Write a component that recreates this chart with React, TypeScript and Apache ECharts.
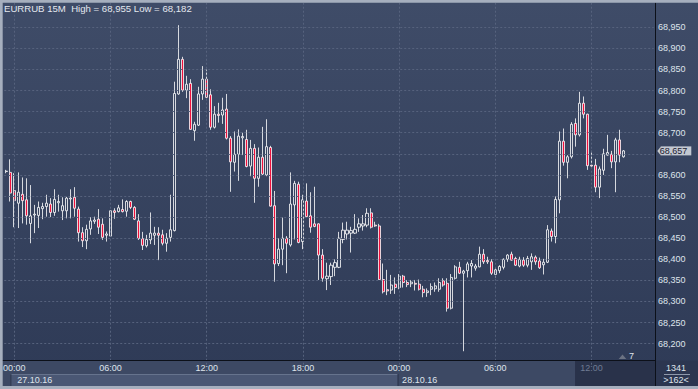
import React, { useEffect, useRef } from 'react';
import * as echarts from 'echarts';

// ---------- data ----------
const symbolName = 'EURRUB';
const timeframe = '15M';
const firstBarTime = Date.UTC(2016, 9, 26, 23, 30); // 26.10.16 23:30
const barMinutes = 15;
const visibleBars = 162;
const totalBars = 1341;

// [open, close, low, high]
const candles: number[][] = [
  [68.608, 68.609, 68.604, 68.612],
  [68.606, 68.557, 68.537, 68.637],
  [68.563, 68.539, 68.476, 68.604],
  [68.533, 68.559, 68.474, 68.606],
  [68.554, 68.539, 68.485, 68.594],
  [68.541, 68.503, 68.482, 68.592],
  [68.485, 68.503, 68.438, 68.576],
  [68.505, 68.507, 68.462, 68.529],
  [68.504, 68.523, 68.474, 68.537],
  [68.520, 68.525, 68.495, 68.534],
  [68.525, 68.533, 68.501, 68.553],
  [68.531, 68.511, 68.500, 68.545],
  [68.511, 68.542, 68.503, 68.566],
  [68.534, 68.537, 68.513, 68.553],
  [68.515, 68.527, 68.493, 68.547],
  [68.515, 68.545, 68.497, 68.548],
  [68.543, 68.545, 68.497, 68.566],
  [68.547, 68.521, 68.501, 68.571],
  [68.519, 68.463, 68.442, 68.525],
  [68.463, 68.444, 68.429, 68.476],
  [68.444, 68.471, 68.424, 68.482],
  [68.472, 68.491, 68.458, 68.500],
  [68.490, 68.493, 68.484, 68.501],
  [68.495, 68.476, 68.460, 68.519],
  [68.483, 68.452, 68.446, 68.497],
  [68.457, 68.460, 68.442, 68.466],
  [68.455, 68.515, 68.454, 68.516],
  [68.515, 68.511, 68.496, 68.521],
  [68.513, 68.522, 68.511, 68.529],
  [68.518, 68.513, 68.511, 68.542],
  [68.514, 68.537, 68.501, 68.540],
  [68.537, 68.523, 68.519, 68.539],
  [68.523, 68.495, 68.493, 68.526],
  [68.491, 68.449, 68.446, 68.507],
  [68.449, 68.433, 68.422, 68.465],
  [68.432, 68.447, 68.428, 68.458],
  [68.446, 68.462, 68.436, 68.511],
  [68.457, 68.462, 68.434, 68.477],
  [68.462, 68.457, 68.398, 68.476],
  [68.458, 68.438, 68.433, 68.470],
  [68.438, 68.450, 68.418, 68.462],
  [68.452, 68.470, 68.442, 68.553],
  [68.468, 68.793, 68.466, 68.821],
  [68.792, 68.874, 68.790, 68.955],
  [68.874, 68.801, 68.797, 68.880],
  [68.801, 68.815, 68.782, 68.835],
  [68.817, 68.708, 68.707, 68.827],
  [68.705, 68.720, 68.681, 68.726],
  [68.718, 68.792, 68.716, 68.809],
  [68.792, 68.827, 68.778, 68.858],
  [68.827, 68.784, 68.782, 68.850],
  [68.790, 68.713, 68.707, 68.803],
  [68.713, 68.744, 68.710, 68.763],
  [68.744, 68.741, 68.724, 68.771],
  [68.742, 68.754, 68.721, 68.783],
  [68.756, 68.687, 68.684, 68.792],
  [68.687, 68.631, 68.560, 68.692],
  [68.630, 68.649, 68.608, 68.703],
  [68.649, 68.692, 68.586, 68.708],
  [68.688, 68.691, 68.647, 68.700],
  [68.684, 68.620, 68.618, 68.707],
  [68.621, 68.663, 68.597, 68.683],
  [68.663, 68.592, 68.534, 68.673],
  [68.592, 68.642, 68.572, 68.665],
  [68.642, 68.602, 68.600, 68.714],
  [68.600, 68.667, 68.597, 68.732],
  [68.665, 68.526, 68.525, 68.669],
  [68.527, 68.389, 68.347, 68.562],
  [68.390, 68.424, 68.384, 68.450],
  [68.424, 68.450, 68.386, 68.499],
  [68.450, 68.438, 68.367, 68.455],
  [68.434, 68.531, 68.430, 68.606],
  [68.529, 68.580, 68.447, 68.586],
  [68.578, 68.440, 68.438, 68.584],
  [68.442, 68.541, 68.424, 68.553],
  [68.538, 68.501, 68.500, 68.580],
  [68.503, 68.476, 68.463, 68.559],
  [68.484, 68.478, 68.476, 68.572],
  [68.484, 68.410, 68.351, 68.485],
  [68.410, 68.355, 68.347, 68.424],
  [68.354, 68.360, 68.327, 68.392],
  [68.359, 68.386, 68.339, 68.392],
  [68.381, 68.392, 68.360, 68.400],
  [68.381, 68.450, 68.379, 68.465],
  [68.447, 68.469, 68.438, 68.487],
  [68.460, 68.469, 68.447, 68.489],
  [68.462, 68.468, 68.416, 68.477],
  [68.462, 68.471, 68.460, 68.507],
  [68.476, 68.484, 68.465, 68.497],
  [68.479, 68.484, 68.468, 68.505],
  [68.481, 68.509, 68.476, 68.521],
  [68.510, 68.476, 68.473, 68.521],
  [68.481, 68.479, 68.477, 68.489],
  [68.479, 68.352, 68.351, 68.484],
  [68.352, 68.323, 68.319, 68.390],
  [68.328, 68.325, 68.315, 68.375],
  [68.327, 68.339, 68.318, 68.363],
  [68.341, 68.333, 68.318, 68.357],
  [68.333, 68.360, 68.329, 68.365],
  [68.360, 68.345, 68.333, 68.363],
  [68.345, 68.340, 68.334, 68.351],
  [68.342, 68.346, 68.334, 68.351],
  [68.343, 68.341, 68.326, 68.351],
  [68.341, 68.329, 68.326, 68.352],
  [68.329, 68.321, 68.310, 68.337],
  [68.321, 68.325, 68.311, 68.331],
  [68.329, 68.335, 68.315, 68.343],
  [68.330, 68.337, 68.323, 68.345],
  [68.329, 68.345, 68.323, 68.355],
  [68.349, 68.339, 68.335, 68.355],
  [68.343, 68.284, 68.276, 68.355],
  [68.284, 68.357, 68.281, 68.365],
  [68.355, 68.382, 68.352, 68.386],
  [68.381, 68.367, 68.365, 68.394],
  [68.367, 68.372, 68.182, 68.375],
  [68.373, 68.389, 68.357, 68.394],
  [68.384, 68.390, 68.357, 68.398],
  [68.379, 68.384, 68.373, 68.389],
  [68.382, 68.412, 68.381, 68.430],
  [68.412, 68.394, 68.389, 68.424],
  [68.397, 68.394, 68.389, 68.406],
  [68.394, 68.367, 68.363, 68.400],
  [68.364, 68.375, 68.357, 68.379],
  [68.373, 68.383, 68.367, 68.386],
  [68.381, 68.400, 68.376, 68.402],
  [68.400, 68.410, 68.394, 68.412],
  [68.412, 68.398, 68.397, 68.418],
  [68.402, 68.386, 68.384, 68.406],
  [68.384, 68.400, 68.381, 68.406],
  [68.398, 68.386, 68.382, 68.405],
  [68.386, 68.402, 68.381, 68.408],
  [68.394, 68.406, 68.375, 68.414],
  [68.405, 68.394, 68.387, 68.409],
  [68.396, 68.380, 68.377, 68.404],
  [68.387, 68.393, 68.364, 68.401],
  [68.393, 68.470, 68.391, 68.481],
  [68.467, 68.454, 68.442, 68.473],
  [68.454, 68.542, 68.438, 68.549],
  [68.541, 68.680, 68.509, 68.703],
  [68.680, 68.630, 68.622, 68.710],
  [68.630, 68.643, 68.592, 68.647],
  [68.643, 68.720, 68.639, 68.725],
  [68.722, 68.695, 68.667, 68.734],
  [68.695, 68.770, 68.691, 68.797],
  [68.770, 68.744, 68.734, 68.786],
  [68.744, 68.622, 68.612, 68.745],
  [68.623, 68.621, 68.617, 68.657],
  [68.623, 68.571, 68.559, 68.638],
  [68.571, 68.614, 68.545, 68.620],
  [68.611, 68.650, 68.600, 68.662],
  [68.647, 68.653, 68.646, 68.695],
  [68.649, 68.631, 68.616, 68.657],
  [68.631, 68.683, 68.559, 68.688],
  [68.683, 68.647, 68.630, 68.707],
  [68.643, 68.657, 68.641, 68.659],
];

const priceTicks = [
  68.2, 68.25, 68.3, 68.35, 68.4, 68.45, 68.5, 68.55,
  68.6, 68.65, 68.7, 68.75, 68.8, 68.85, 68.9, 68.95,
];
const gridHours = [0, 6, 12, 18];

// ---------- layout ----------
const W = 698;
const H = 389;
const FONT = "'Liberation Sans', Arial, sans-serif";
const gridLeft = 0.3;
const gridTop = 3;
const gridWidth = 653.4;
const gridBottomY = 364.74;
const yMin = 68.15;
const yMax = 69.0076;
const axisY = 360;
const rowSplitY = 374;
const footerBottom = 386;
const plotRight = 655;
const slotW = gridWidth / visibleBars;
const shadedFromSlot = 142.5;
const TEXT = '#dfe4ec';

const pad = (n: number) => String(n).padStart(2, '0');
const slots = Array.from({ length: visibleBars }, (_, k) => {
  const d = new Date(firstBarTime + k * barMinutes * 60000);
  return {
    date: `${pad(d.getUTCDate())}.${pad(d.getUTCMonth() + 1)}.${String(d.getUTCFullYear()).slice(2)}`,
    time: `${pad(d.getUTCHours())}:${pad(d.getUTCMinutes())}`,
    hour: d.getUTCHours(),
    minute: d.getUTCMinutes(),
  };
});
const categories = slots.map((s) => `${s.date} ${s.time}`);
const isGridSlot = (i: number) => slots[i].minute === 0 && gridHours.includes(slots[i].hour);
const isDayStart = (i: number) => slots[i].minute === 0 && slots[i].hour === 0;
const gridCats = categories.filter((_, i) => isGridSlot(i));
const dayStarts = slots.map((_, i) => i).filter((i) => isDayStart(i));

const fmt = (v: number) => v.toFixed(3).replace('.', ',');
const highVal = Math.max(...candles.map((c) => c[3]));
const lowVal = Math.min(...candles.map((c) => c[2]));
const lastClose = candles[candles.length - 1][1];
const slotCenter = (i: number) => gridLeft + (i + 0.5) * slotW;

export default function App() {
  const ref = useRef<HTMLDivElement>(null);

  useEffect(() => {
    document.body.style.margin = '0';
    if (!ref.current) return;
    const chart = echarts.init(ref.current, undefined, { renderer: 'svg', width: W, height: H });

    const shadeStart = gridLeft + shadedFromSlot * slotW;
    const day1Start = slotCenter(dayStarts[0]);
    const day2Start = slotCenter(dayStarts[1]);

    const graphics: any[] = [
      // time row
      { type: 'rect', z: 4, silent: true, shape: { x: 0, y: axisY + 0.5, width: plotRight, height: rowSplitY - axisY - 0.5 }, style: { fill: '#3d4964' } },
      // date row
      { type: 'rect', z: 4, silent: true, shape: { x: 0, y: rowSplitY, width: plotRight, height: footerBottom - rowSplitY }, style: { fill: '#3d4964' } },
      { type: 'rect', z: 4, silent: true, shape: { x: day1Start, y: rowSplitY, width: day2Start - day1Start, height: footerBottom - rowSplitY }, style: { fill: '#4a5774' } },
      { type: 'line', z: 4, silent: true, shape: { x1: day1Start, y1: rowSplitY + 0.5, x2: day2Start, y2: rowSplitY + 0.5 }, style: { stroke: '#66738d', lineWidth: 1 } },
      { type: 'line', z: 4, silent: true, shape: { x1: day1Start + 0.5, y1: rowSplitY, x2: day1Start + 0.5, y2: footerBottom }, style: { stroke: '#2c354b', lineWidth: 1 } },
      { type: 'line', z: 4, silent: true, shape: { x1: day2Start + 0.5, y1: rowSplitY, x2: day2Start + 0.5, y2: footerBottom }, style: { stroke: '#2c354b', lineWidth: 1 } },
      // shaded future area
      { type: 'rect', z: 4, silent: true, shape: { x: shadeStart, y: axisY + 0.5, width: plotRight - shadeStart, height: footerBottom - axisY - 0.5 }, style: { fill: '#29324a' } },
      // right bottom box
      { type: 'rect', z: 4, silent: true, shape: { x: plotRight, y: axisY + 0.5, width: W - plotRight, height: footerBottom - axisY - 0.5 }, style: { fill: '#2c3650' } },
      { type: 'line', z: 5, silent: true, shape: { x1: 664, y1: rowSplitY + 0.5, x2: 690, y2: rowSplitY + 0.5 }, style: { stroke: '#8e98aa', lineWidth: 1 } },
      { type: 'text', z: 7, silent: true, x: 676, y: 367.7, style: { text: String(totalBars), fill: TEXT, font: `9px ${FONT}`, textAlign: 'center', textVerticalAlign: 'middle' } },
      { type: 'text', z: 7, silent: true, x: 676, y: 380, style: { text: `>${visibleBars}<`, fill: TEXT, font: `9px ${FONT}`, textAlign: 'center', textVerticalAlign: 'middle' } },
      // axis dividing lines
      { type: 'line', z: 6, silent: true, shape: { x1: 0, y1: axisY + 0.5, x2: plotRight, y2: axisY + 0.5 }, style: { stroke: '#0c1019', lineWidth: 1 } },
      { type: 'line', z: 6, silent: true, shape: { x1: plotRight + 0.5, y1: axisY, x2: plotRight + 0.5, y2: footerBottom }, style: { stroke: '#0c1019', lineWidth: 1 } },
      // marker "7"
      { type: 'polygon', z: 7, silent: true, shape: { points: [[618.7, 359], [622.5, 354.5], [626.3, 359]] }, style: { fill: '#6b7282' } },
      { type: 'text', z: 7, silent: true, x: 631.5, y: 356, style: { text: '7', fill: TEXT, font: `9px ${FONT}`, textAlign: 'center', textVerticalAlign: 'middle' } },
      // borders
      { type: 'rect', z: 10, silent: true, shape: { x: 0, y: 0, width: W, height: 2.7 }, style: { fill: '#a6afbe' } },
      { type: 'rect', z: 10, silent: true, shape: { x: 0, y: 0, width: 2.7, height: H }, style: { fill: '#a6afbe' } },
      { type: 'rect', z: 10, silent: true, shape: { x: 0, y: footerBottom, width: W, height: H - footerBottom }, style: { fill: '#a6afbe' } },
      // title
      {
        type: 'text', z: 10, silent: true, x: 4, y: 3,
        style: { text: `${symbolName} ${timeframe}  High = ${fmt(highVal)} Low = ${fmt(lowVal)}`, fill: '#e4e8ef', font: `9.6px ${FONT}`, textAlign: 'left', textVerticalAlign: 'top' },
      },
    ];

    chart.setOption({
      animation: false,
      backgroundColor: 'transparent',
      grid: { left: gridLeft, top: gridTop, width: gridWidth, height: gridBottomY - gridTop, containLabel: false },
      xAxis: [
        {
          type: 'category',
          data: categories,
          boundaryGap: true,
          position: 'bottom',
          offset: axisY - gridBottomY,
          z: 6,
          axisLine: { show: false, onZero: false },
          axisTick: { show: false },
          splitLine: { show: false },
          axisLabel: {
            interval: (i: number) => isGridSlot(i),
            formatter: (v: string) => v.split(' ')[1],
            color: (v: string) => (categories.indexOf(v) >= shadedFromSlot ? '#6f7b93' : TEXT),
            fontSize: 9,
            fontFamily: FONT,
            margin: 2.5,
            lineHeight: 11,
          },
        },
        {
          type: 'category',
          data: categories,
          boundaryGap: true,
          position: 'bottom',
          offset: rowSplitY - gridBottomY,
          z: 6,
          axisLine: { show: false, onZero: false },
          axisTick: { show: false },
          splitLine: { show: false },
          axisLabel: {
            interval: (i: number) => isDayStart(i),
            formatter: (v: string) => v.split(' ')[0],
            color: TEXT,
            fontSize: 9,
            fontFamily: FONT,
            margin: 0.8,
            lineHeight: 11,
            align: 'left',
            padding: [0, 0, 0, 3],
          },
        },
      ],
      yAxis: {
        type: 'value',
        position: 'right',
        min: yMin,
        max: yMax,
        interval: 0.05,
        offset: plotRight - (gridLeft + gridWidth),
        z: 6,
        axisLine: { show: true, onZero: false, lineStyle: { color: '#0c1019', width: 1 } },
        axisTick: { show: false },
        splitLine: { show: false },
        axisLabel: {
          margin: 3,
          fontSize: 9,
          fontFamily: FONT,
          color: TEXT,
          // ticks outside the labelled range, or hidden behind the current-price tag, stay blank
          formatter: (v: number) =>
            v < priceTicks[0] - 1e-6 ||
            v > priceTicks[priceTicks.length - 1] + 1e-6 ||
            Math.abs(v - lastClose) < 0.012
              ? ''
              : fmt(v),
        },
      },
      series: [
        {
          type: 'line',
          data: [],
          z: 1,
          silent: true,
          markLine: {
            silent: true,
            animation: false,
            symbol: ['none', 'none'],
            label: { show: false },
            lineStyle: { color: '#56627d', width: 1, type: [2, 2] },
            emphasis: { disabled: true },
            data: [
              ...priceTicks.map((v) => ({ yAxis: v })),
              ...gridCats.map((c) => ({ xAxis: c })),
            ],
          },
        },
        {
          type: 'candlestick',
          data: candles,
          z: 3,
          silent: true,
          barWidth: 2.6,
          emphasis: { disabled: true },
          itemStyle: {
            color: 'transparent',
            color0: '#f0103c',
            borderColor: '#ffffff',
            borderColor0: '#ffffff',
            borderWidth: 0.8,
          },
        },
      ],
      graphic: { elements: graphics },
    });

    // current price tag, placed through the chart's own value scale
    const py = chart.convertToPixel({ yAxisIndex: 0 }, lastClose) as number;
    const tagX = plotRight + 2.3;
    const tagH = 9;
    const priceTag: any[] = [
      {
        type: 'polygon', z: 8, silent: true,
        shape: { points: [[tagX, py], [tagX + 3.5, py - tagH / 2], [tagX + 3.5, py + tagH / 2]] },
        style: { fill: '#c3c8d1' },
      },
      {
        type: 'rect', z: 8, silent: true,
        shape: { x: tagX + 3.5, y: py - tagH / 2, width: 30.5, height: tagH },
        style: { fill: '#c3c8d1' },
      },
      {
        type: 'text', z: 9, silent: true, x: tagX + 2.5, y: py + 0.5,
        style: { text: fmt(lastClose), fill: '#1b2030', font: `9px ${FONT}`, textAlign: 'left', textVerticalAlign: 'middle' },
      },
    ];
    chart.setOption({ graphic: { elements: [...graphics, ...priceTag] } });

    return () => chart.dispose();
  }, []);

  return (
    <div
      ref={ref}
      style={{
        position: 'absolute',
        left: 0,
        top: 0,
        width: W,
        height: H,
        background: 'linear-gradient(to bottom, #3f4c68, #2e3a56)',
      }}
    />
  );
}
